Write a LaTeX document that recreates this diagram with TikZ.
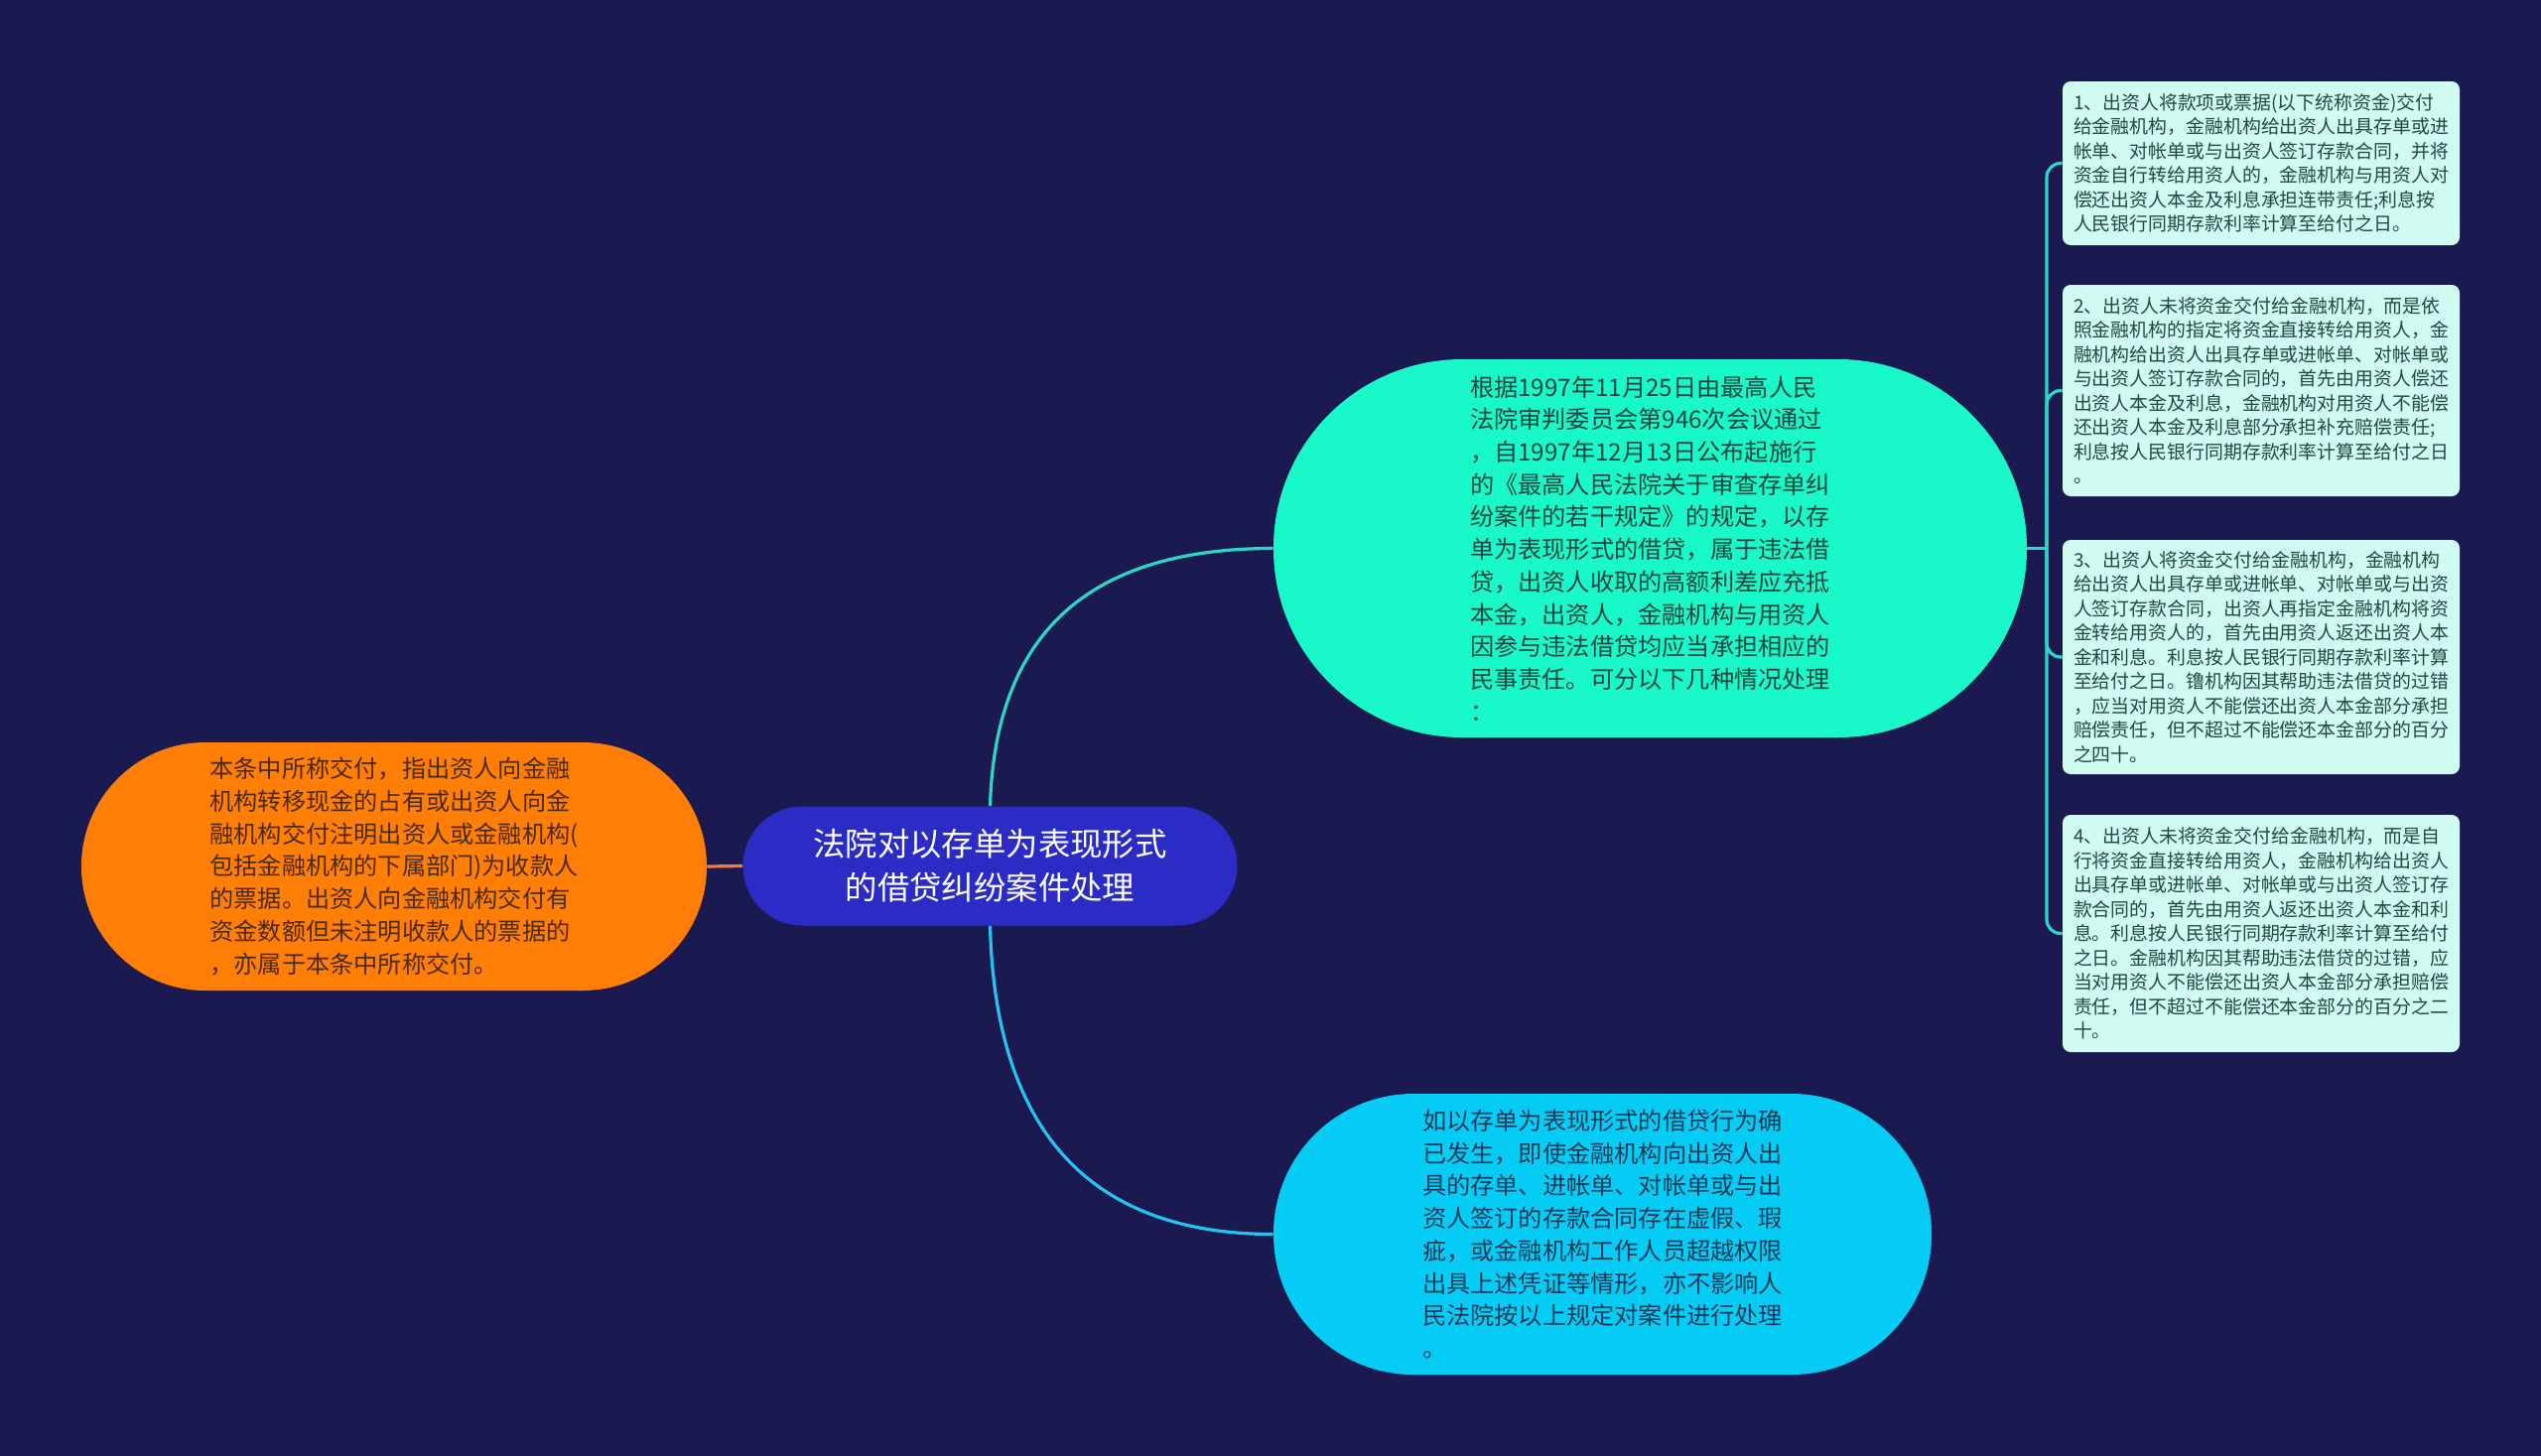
\documentclass[tikz,border=0pt]{standalone}
\usepackage{fontspec}
\newfontfamily\cjk{Noto Sans CJK SC}
\definecolor{bgc}{HTML}{1B1A50}
\definecolor{cenc}{HTML}{2B2BC6}
\definecolor{orc}{HTML}{FF7E05}
\definecolor{grc}{HTML}{18F8C8}
\definecolor{blc}{HTML}{05CCF5}
\definecolor{boxc}{HTML}{CFFBF1}
\definecolor{boxt}{HTML}{1F4A3D}
\definecolor{grt}{HTML}{1A4540}
\definecolor{blt}{HTML}{173A58}
\definecolor{ort}{HTML}{4A2A12}
\definecolor{tealln}{HTML}{2ED6C4}
\definecolor{bluln}{HTML}{25C3EE}
\definecolor{orln}{HTML}{F08030}
\tikzset{
  bignode/.style={draw=none, align=left, inner sep=0pt, font=\cjk\fontsize{12.1}{16.35}\selectfont},
  infobox/.style={fill=boxc, text=boxt, rounded corners=4pt, align=left, inner xsep=5pt, inner ysep=0pt,
    minimum width=200pt, font=\cjk\fontsize{9.45}{12.25}\selectfont},
  link/.style={line width=1.6pt},
}
\begin{document}
\begin{tikzpicture}[x=0.5pt,y=-0.5pt]
\useasboundingbox (0,0) rectangle (2560,1467);
\fill[bgc] (0,0) rectangle (2560,1467);

% central
\node[fill=cenc, text=white, rounded corners=29.9pt, minimum width=249pt, minimum height=60pt,
  align=center, inner sep=0pt, font=\cjk\fontsize{16.2}{22}\selectfont] (center) at (997.5,872.5)
  {法院对以存单为表现形式\\的借贷纠纷案件处理};

% orange
\node[bignode, fill=orc, text=ort, rounded corners=62.4pt, minimum width=315pt, minimum height=125pt] (orange) at (397,873)
  {本条中所称交付，指出资人向金融\\
   机构转移现金的占有或出资人向金\\
   融机构交付注明出资人或金融机构(\\
   包括金融机构的下属部门)为收款人\\
   的票据。出资人向金融机构交付有\\
   资金数额但未注明收款人的票据的\\
   ，亦属于本条中所称交付。};

% green
\node[bignode, fill=grc, text=grt, rounded corners=95pt, minimum width=379.5pt, minimum height=190.5pt] (green) at (1662.5,552.5)
  {根据1997年11月25日由最高人民\\
   法院审判委员会第946次会议通过\\
   ，自1997年12月13日公布起施行\\
   的《最高人民法院关于审查存单纠\\
   纷案件的若干规定》的规定，以存\\
   单为表现形式的借贷，属于违法借\\
   贷，出资人收取的高额利差应充抵\\
   本金，出资人，金融机构与用资人\\
   因参与违法借贷均应当承担相应的\\
   民事责任。可分以下几种情况处理\\
   ：};

% blue
\node[bignode, fill=blc, text=blt, rounded corners=70.5pt, minimum width=331.5pt, minimum height=141.5pt] (blue) at (1614.5,1243.5)
  {如以存单为表现形式的借贷行为确\\
   已发生，即使金融机构向出资人出\\
   具的存单、进帐单、对帐单或与出\\
   资人签订的存款合同存在虚假、瑕\\
   疵，或金融机构工作人员超越权限\\
   出具上述凭证等情形，亦不影响人\\
   民法院按以上规定对案件进行处理\\
   。};

% right boxes
\node[infobox, minimum height=82.5pt] (b1) at (2278,164.5)
  {1、出资人将款项或票据(以下统称资金)交付\\
   给金融机构，金融机构给出资人出具存单或进\\
   帐单、对帐单或与出资人签订存款合同，并将\\
   资金自行转给用资人的，金融机构与用资人对\\
   偿还出资人本金及利息承担连带责任;利息按\\
   人民银行同期存款利率计算至给付之日。};
\node[infobox, minimum height=106.5pt] (b2) at (2278,393.5)
  {2、出资人未将资金交付给金融机构，而是依\\
   照金融机构的指定将资金直接转给用资人，金\\
   融机构给出资人出具存单或进帐单、对帐单或\\
   与出资人签订存款合同的，首先由用资人偿还\\
   出资人本金及利息，金融机构对用资人不能偿\\
   还出资人本金及利息部分承担补充赔偿责任;\\
   利息按人民银行同期存款利率计算至给付之日\\
   。};
\node[infobox, minimum height=118pt] (b3) at (2278,662)
  {3、出资人将资金交付给金融机构，金融机构\\
   给出资人出具存单或进帐单、对帐单或与出资\\
   人签订存款合同，出资人再指定金融机构将资\\
   金转给用资人的，首先由用资人返还出资人本\\
   金和利息。利息按人民银行同期存款利率计算\\
   至给付之日。镥机构因其帮助违法借贷的过错\\
   ，应当对用资人不能偿还出资人本金部分承担\\
   赔偿责任，但不超过不能偿还本金部分的百分\\
   之四十。};
\node[infobox, minimum height=119.5pt] (b4) at (2278,940.5)
  {4、出资人未将资金交付给金融机构，而是自\\
   行将资金直接转给用资人，金融机构给出资人\\
   出具存单或进帐单、对帐单或与出资人签订存\\
   款合同的，首先由用资人返还出资人本金和利\\
   息。利息按人民银行同期存款利率计算至给付\\
   之日。金融机构因其帮助违法借贷的过错，应\\
   当对用资人不能偿还出资人本金部分承担赔偿\\
   责任，但不超过不能偿还本金部分的百分之二\\
   十。};

% connectors
\draw[link, orln] (orange.east) -- (center.west);
\draw[link, tealln] (center.north) .. controls +(5,-170) and +(-190,0) .. (green.west);
\draw[link, bluln] (center.south) .. controls +(5,200) and +(-190,0) .. (blue.west);
\coordinate (j) at (2062,552.5);
\draw[link, tealln] (green.east) -- (j);
\foreach \b in {b1,b2,b3,b4}
  \draw[link, tealln, rounded corners=7pt] (j) |- (\b.west);
\end{tikzpicture}
\end{document}
